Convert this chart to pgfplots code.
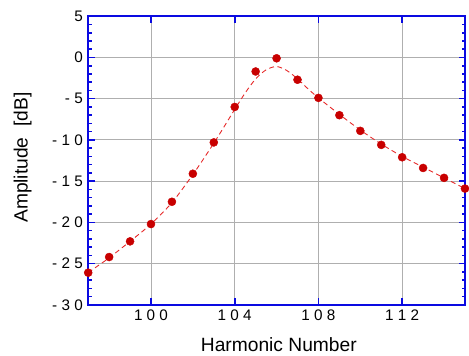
\documentclass[border=0pt]{standalone}
\usepackage{pgfplots}
\pgfplotsset{compat=1.18}
\usepackage{fontspec}
\setmainfont{Liberation Sans}
\definecolor{axblue}{RGB}{10,10,225}
\definecolor{mkred}{RGB}{200,0,0}
\definecolor{lnred}{RGB}{230,40,40}
\definecolor{gridgray}{RGB}{175,175,175}
\begin{document}
\begin{tikzpicture}
\begin{axis}[
  name=ax,
  scale only axis,
  width=382.5pt, height=293pt,
  xmin=97, xmax=115, ymin=-30, ymax=5,
  xtick={100,104,108,112},
  xticklabels={1 0 0,1 0 4,1 0 8,1 1 2},
  ytick={-30,-25,-20,-15,-10,-5,0,5},
  yticklabels={- 3 0,- 2 5,- 2 0,- 1 5,- 1 0,- 5,0,5},
  minor y tick num=4,
  tick align=inside,
  major tick length=6.5pt,
  minor tick length=3.5pt,
  every tick/.append style={axblue, line width=1.6pt},
  axis line style={axblue, line width=1.8pt},
  grid=major,
  major grid style={gridgray, line width=0.9pt},
  tick label style={font=\fontsize{15.5}{18}\selectfont, text=black},
  yticklabel style={xshift=-2pt},
  xticklabel style={yshift=-2pt},
  xlabel={Harmonic Number},
  ylabel={Amplitude\ \ [dB]},
  every axis x label/.style={at={(axis description cs:0.506,-0.163)}, anchor=base, font=\fontsize{19.5}{23}\selectfont},
  every axis y label/.style={at={(axis description cs:-0.174,0.51)}, anchor=center, rotate=90, font=\fontsize{19.5}{23}\selectfont},
]
\addplot[lnred, line width=0.9pt, dash pattern=on 5pt off 3.5pt, smooth, tension=0.5] coordinates {
(97,-26.1) (97.5,-25.2) (98,-24.3) (99,-22.3) (100,-20.2) (101,-17.6) (102,-14.2) (103,-10.4)
(104,-6.3) (104.5,-4.3) (105,-2.6) (105.5,-1.5) (106,-1.1) (106.5,-1.6) (107,-2.6) (107.5,-3.8)
(108,-4.9) (109,-6.9) (110,-8.8) (111,-10.5) (112,-12.0) (113,-13.3) (114,-14.6) (115,-15.9)
};
\addplot[only marks, mark=*, mark size=4.1pt, mark options={fill=mkred, draw=mkred}] coordinates {
(97,-26.1) (98,-24.2) (99,-22.3) (100,-20.2) (101,-17.5) (102,-14.1) (103,-10.3) (104,-6.0)
(105,-1.7) (106,-0.1) (107,-2.7) (108,-4.9) (109,-7.0) (110,-8.9) (111,-10.6) (112,-12.1)
(113,-13.4) (114,-14.6) (115,-15.9)
};
\end{axis}
\path[use as bounding box] ([shift={(-89.55pt,-50.5pt)}]ax.south west) rectangle ([shift={(-3.05pt,16.5pt)}]ax.north east);
\end{tikzpicture}
\end{document}
